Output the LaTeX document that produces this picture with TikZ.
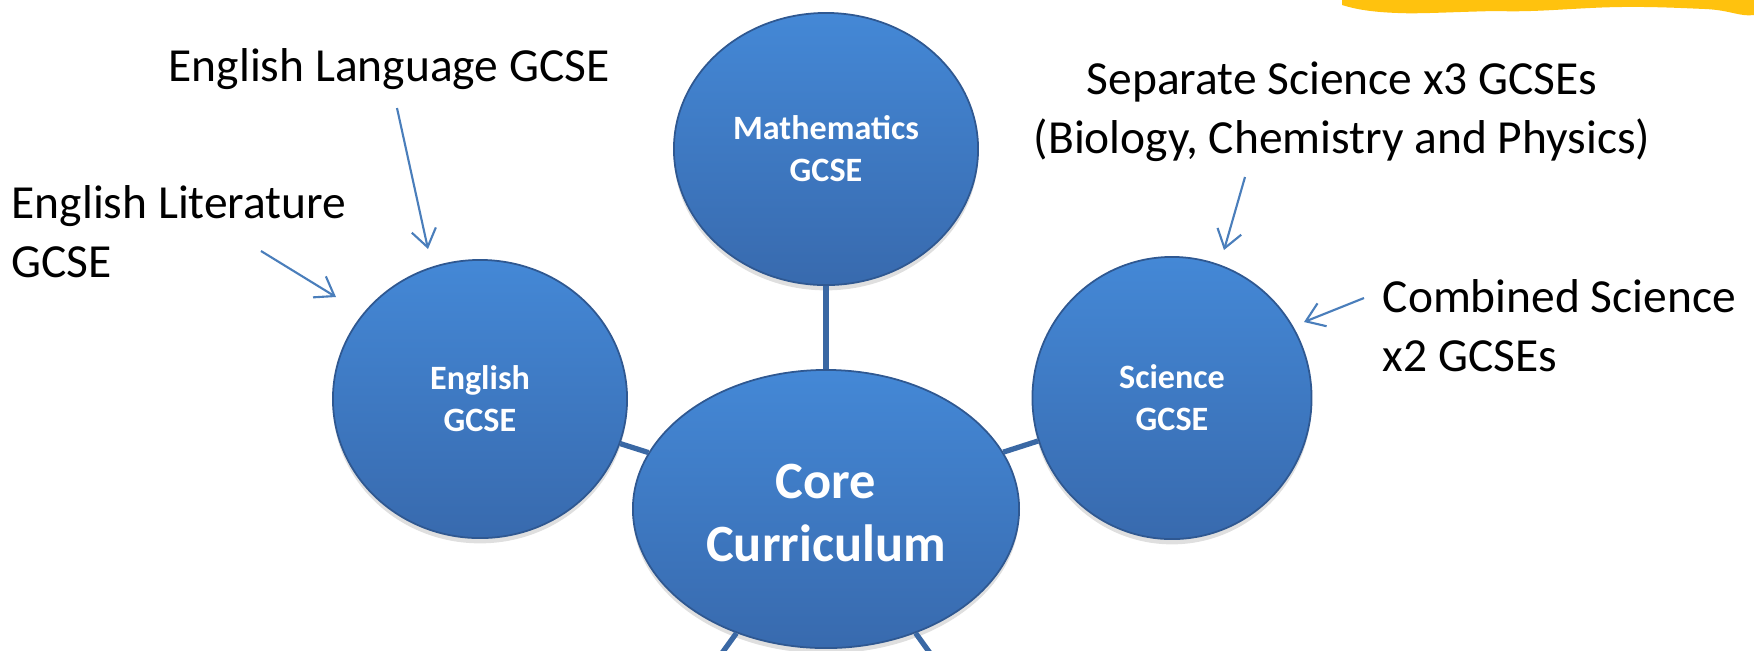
\documentclass[tikz,border=0pt]{standalone}
\usepackage{fontspec}
\setmainfont{Carlito}
\usetikzlibrary{arrows.meta,shapes.geometric,shadows}
\definecolor{bubtop}{RGB}{68,136,214}
\definecolor{bubbot}{RGB}{56,106,174}
\definecolor{bubedge}{RGB}{47,88,145}
\definecolor{connc}{RGB}{58,104,164}
\definecolor{arrc}{RGB}{74,126,187}
\definecolor{splash}{RGB}{255,194,14}
\begin{document}
\begin{tikzpicture}[x=0.01cm,y=-0.01cm,
  bubble/.style={ellipse, inner sep=0pt, top color=bubtop, bottom color=bubbot,
    draw=bubedge, line width=0.5pt, text=white, align=center,
    font=\bfseries\fontsize{9.7}{11.9}\selectfont,
    drop shadow={opacity=0.25,shadow xshift=0pt,shadow yshift=-1.5pt}},
  conn/.style={draw=connc, line width=1.5pt},
  pointer/.style={draw=arrc, line width=0.6pt, -{Straight Barb[length=5pt,width=7pt]}},
  lbl/.style={font=\fontsize{13.5}{16.5}\selectfont, inner sep=0pt, text=black}
]
\useasboundingbox (0,0) rectangle (1754,650);
\clip (0,0) rectangle (1754,650);

% yellow brush stroke
\fill[splash] (1342,0) -- (1754,0) -- (1754,15)
  .. controls (1740,17) and (1730,10) .. (1705,9)
  .. controls (1660,7) and (1630,6) .. (1590,8)
  .. controls (1550,10) and (1530,12) .. (1495,11)
  .. controls (1450,12) and (1420,14) .. (1398,13)
  .. controls (1370,12) and (1355,9) .. (1342,5) -- cycle;

% bubbles
\node[bubble, minimum width=3.04cm, minimum height=2.72cm] (math) at (826,149) {Mathematics\\GCSE};
\node[bubble, minimum width=2.94cm, minimum height=2.78cm] (eng) at (480,399) {English\\GCSE};
\node[bubble, minimum width=2.79cm, minimum height=2.82cm] (sci) at (1172,398) {Science\\GCSE};
\node[bubble, minimum width=3.86cm, minimum height=2.78cm, text height=29.8pt,
  font=\bfseries\fontsize{14.9}{17.9}\selectfont] (core) at (826,509) {Core\\Curriculum};

% connectors
\coordinate (bl) at (652,750);
\coordinate (br) at (1000,750);
\draw[conn] (math) -- (core);
\draw[conn] (eng) -- (core);
\draw[conn] (sci) -- (core);
\draw[conn] (core) -- (bl);
\draw[conn] (core) -- (br);

% labels (base anchor = baseline of the last line)
\node[lbl, anchor=base west] (lang) at (168,81) {English Language GCSE};
\node[lbl, anchor=base west, align=left] (lit) at (11,277) {English Literature\\GCSE};
\node[lbl, anchor=base, align=center] (sep) at (1342,153) {Separate Science x3 GCSEs\\(Biology, Chemistry and Physics)};
\node[lbl, anchor=base west, align=left] (comb) at (1382,371) {Combined Science\\x2 GCSEs};

% pointer arrows
\coordinate (langS) at (397,108);
\coordinate (langT) at (428,249);
\coordinate (litS) at (261,251);
\coordinate (litT) at (336,297);
\coordinate (sepS) at (1245,177);
\coordinate (sepT) at (1224,250);
\coordinate (comS) at (1364,298);
\coordinate (comT) at (1304,322);
\draw[pointer] (langS) -- (langT);
\draw[pointer] (litS) -- (litT);
\draw[pointer] (sepS) -- (sepT);
\draw[pointer] (comS) -- (comT);
\end{tikzpicture}
\end{document}
